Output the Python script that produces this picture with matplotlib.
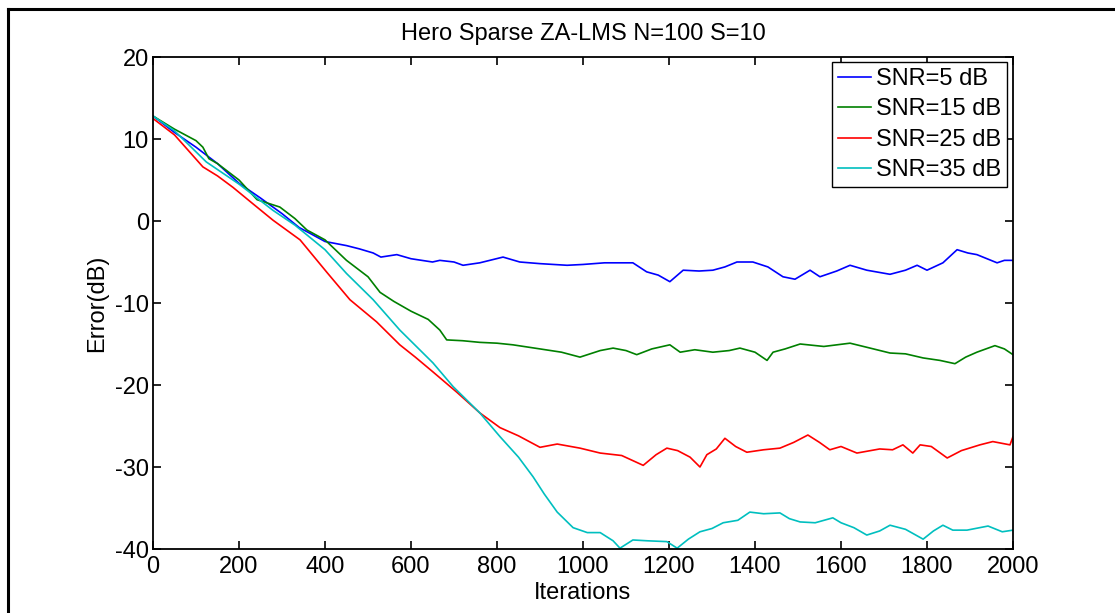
import matplotlib
matplotlib.use("Agg")
import matplotlib.pyplot as plt
from matplotlib.lines import Line2D

plt.rcParams['font.family'] = ['Liberation Sans', 'DejaVu Sans']
plt.rcParams['axes.unicode_minus'] = False

# Learning curves (iteration, error in dB) for each SNR setting
it_5 = [0, 50, 100, 150, 200, 250, 300, 340, 365, 400, 420, 450, 480, 512, 530, 567, 600, 650, 667, 700,
        721, 760, 814, 853, 900, 963, 1000, 1050, 1116, 1148, 1175, 1202, 1233, 1270, 1302, 1330, 1358, 1395,
        1430, 1465, 1493, 1528, 1551, 1590, 1621, 1660, 1714, 1750, 1777, 1800, 1837, 1870, 1895, 1916, 1963,
        1980, 2000]
err_5 = [12.8, 10.8, 9.0, 7.0, 4.6, 2.8, 0.9, -0.8, -1.5, -2.5, -2.7, -3.0, -3.4, -3.9, -4.4, -4.1, -4.6, -5.0,
         -4.8, -5.0, -5.4, -5.1, -4.4, -5.0, -5.2, -5.4, -5.3, -5.1, -5.1, -6.2, -6.6, -7.4, -6.0, -6.1, -6.0,
         -5.6, -5.0, -5.0, -5.6, -6.8, -7.1, -6.0, -6.8, -6.1, -5.4, -6.0, -6.5, -6.0, -5.4, -6.0, -5.1, -3.5,
         -3.9, -4.1, -5.1, -4.8, -4.8]

it_15 = [0, 50, 100, 116, 130, 150, 200, 242, 295, 330, 358, 400, 450, 500, 528, 560, 600, 640, 667, 683, 720,
         760, 800, 837, 900, 950, 993, 1040, 1070, 1100, 1125, 1160, 1202, 1226, 1260, 1302, 1340, 1365, 1400,
         1428, 1442, 1470, 1505, 1560, 1621, 1660, 1714, 1750, 1791, 1830, 1865, 1890, 1916, 1958, 1980, 2000]
err_15 = [12.8, 11.2, 9.8, 9.0, 7.6, 7.0, 5.0, 2.6, 1.7, 0.3, -1.1, -2.3, -4.8, -6.8, -8.7, -9.8, -11.0, -12.0,
          -13.3, -14.5, -14.6, -14.8, -14.9, -15.1, -15.6, -16.0, -16.6, -15.8, -15.5, -15.8, -16.3, -15.6, -15.1,
          -16.0, -15.7, -16.0, -15.8, -15.5, -16.0, -17.0, -16.0, -15.6, -15.0, -15.3, -14.9, -15.4, -16.1, -16.2,
          -16.7, -17.0, -17.4, -16.6, -16.0, -15.2, -15.6, -16.3]

it_25 = [0, 50, 116, 150, 186, 230, 279, 342, 405, 458, 520, 574, 610, 651, 707, 760, 807, 850, 900, 940, 993,
         1040, 1090, 1140, 1170, 1195, 1220, 1249, 1272, 1288, 1310, 1330, 1355, 1381, 1420, 1458, 1490, 1523,
         1550, 1574, 1600, 1637, 1690, 1720, 1744, 1767, 1784, 1810, 1847, 1880, 1923, 1953, 1993, 2000]
err_25 = [12.5, 10.5, 6.6, 5.5, 4.1, 2.2, 0.1, -2.3, -6.3, -9.6, -12.3, -15.1, -16.6, -18.4, -20.9, -23.4,
          -25.2, -26.2, -27.6, -27.2, -27.7, -28.3, -28.6, -29.8, -28.5, -27.7, -28.0, -28.8, -30.0, -28.5,
          -27.8, -26.5, -27.5, -28.2, -27.9, -27.7, -27.0, -26.1, -27.0, -27.9, -27.5, -28.3, -27.8, -27.9,
          -27.3, -28.3, -27.3, -27.5, -28.9, -28.0, -27.3, -26.9, -27.3, -26.3]

it_35 = [0, 50, 124, 200, 279, 330, 400, 450, 512, 574, 651, 698, 760, 807, 850, 884, 910, 940, 977, 1010, 1040,
         1070, 1086, 1116, 1150, 1195, 1219, 1245, 1272, 1300, 1326, 1360, 1388, 1420, 1458, 1480, 1505, 1540,
         1581, 1600, 1630, 1660, 1690, 1714, 1750, 1791, 1815, 1837, 1860, 1893, 1942, 1975, 2000]
err_35 = [12.8, 11.0, 7.2, 4.5, 1.3, -0.5, -3.5, -6.4, -9.6, -13.3, -17.3, -20.2, -23.4, -26.3, -28.8, -31.2,
          -33.3, -35.5, -37.4, -38.0, -38.0, -39.0, -39.9, -38.9, -39.0, -39.1, -39.9, -38.8, -37.9, -37.5,
          -36.8, -36.5, -35.5, -35.7, -35.6, -36.3, -36.7, -36.8, -36.2, -36.8, -37.4, -38.3, -37.8, -37.1,
          -37.6, -38.8, -37.8, -37.1, -37.7, -37.7, -37.2, -37.9, -37.7]

labels = ['SNR=5 dB', 'SNR=15 dB', 'SNR=25 dB', 'SNR=35 dB']
colors = ['#0000ff', '#008000', '#ff0000', '#00bfbf']
x_ticks = [0, 200, 400, 600, 800, 1000, 1200, 1400, 1600, 1800, 2000]
y_ticks = [-40, -30, -20, -10, 0, 10, 20]

fig = plt.figure(figsize=(11.15, 6.13), dpi=100)
ax = fig.add_axes([153 / 1115, 64 / 613, 860 / 1115, 492 / 613])

series = [(it_5, err_5), (it_15, err_15), (it_25, err_25), (it_35, err_35)]
for (xs, ys), lab, col in zip(series, labels, colors):
    ax.plot(xs, ys, color=col, lw=1.2, label=lab)

ax.set_xlim(0, 2000)
ax.set_ylim(-40, 20)
ax.set_xticks(x_ticks)
ax.set_yticks(y_ticks)
ax.tick_params(direction='in', length=6, width=1.2, top=True, right=True,
               labelsize=17, pad=3)
ax.tick_params(axis='x', pad=5)
for sp in ax.spines.values():
    sp.set_linewidth(1.3)

ax.set_xlabel('Iterations', fontsize=17, labelpad=3)
ax.set_ylabel('Error(dB)', fontsize=17, labelpad=5)
ax.set_title('Hero Sparse ZA-LMS N=100 S=10', fontsize=17, pad=12)

leg = ax.legend(loc='upper right', bbox_to_anchor=(1007 / 1115, 1 - 62 / 613),
                bbox_transform=fig.transFigure, fontsize=17, fancybox=False,
                edgecolor='black', framealpha=1, borderpad=0.25, labelspacing=0.36,
                handlelength=1.4, handletextpad=0.2, borderaxespad=0)
leg.get_frame().set_linewidth(1.0)

# Outer figure frame (top and left edges)
fig.add_artist(Line2D([8 / 1115, 8 / 1115], [0, 1 - 9 / 613], transform=fig.transFigure,
                      color='black', lw=2.2))
fig.add_artist(Line2D([8 / 1115, 1], [1 - 9 / 613, 1 - 9 / 613], transform=fig.transFigure,
                      color='black', lw=2.2))

fig.savefig('out.png', dpi=100)
